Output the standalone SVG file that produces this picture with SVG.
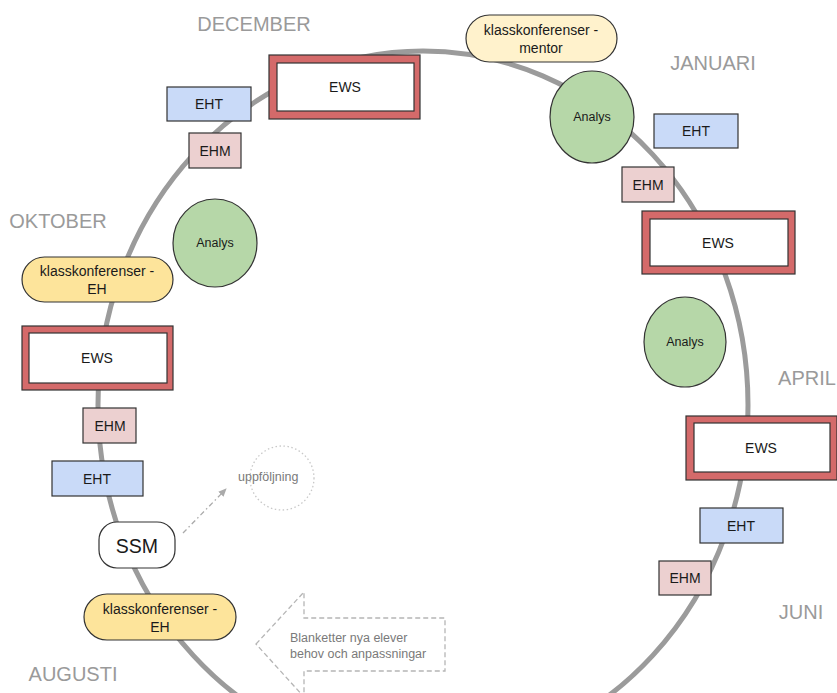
<svg xmlns="http://www.w3.org/2000/svg" width="837" height="693" viewBox="0 0 837 693">
<defs>
<style>
.month{font-family:"Liberation Sans",Arial,sans-serif;font-size:20px;fill:#9a9a9a;text-anchor:middle;dominant-baseline:central}
.t{font-family:"Liberation Sans",Arial,sans-serif;font-size:14px;fill:#1a1a1a;text-anchor:middle;dominant-baseline:central}
.an{font-family:"Liberation Sans",Arial,sans-serif;font-size:12.5px;fill:#1a1a1a;text-anchor:middle;dominant-baseline:central}
.g{font-family:"Liberation Sans",Arial,sans-serif;font-size:12.5px;fill:#7a7a7a;dominant-baseline:central}
.eht{fill:#c9daf8;stroke:#333;stroke-width:1.2}
.ehm{fill:#ecd0d0;stroke:#333;stroke-width:1.2}
.klass{fill:#fde49b;stroke:#333;stroke-width:1.2}
.klassm{fill:#fff2cc;stroke:#333;stroke-width:1.2}
.analys{fill:#b6d7a8;stroke:#333;stroke-width:1.2}
.ewso{fill:#d46a6a;stroke:#333;stroke-width:1.2}
.ewsi{fill:#fff;stroke:#333;stroke-width:1.2}
</style>
<marker id="ah" viewBox="0 0 10 10" refX="8" refY="5" markerWidth="7" markerHeight="7" orient="auto">
<path d="M0,1 L9,5 L0,9 z" fill="#aaa"/>
</marker>
</defs>
<rect width="837" height="693" fill="#fff"/>

<g id="connectors">
<ellipse cx="423" cy="405" rx="325" ry="354" fill="none" stroke="#9b9b9b" stroke-width="5"/>
<line x1="183" y1="533" x2="226" y2="489" stroke="#aaa" stroke-width="1.3" stroke-dasharray="5,3,1.5,3" marker-end="url(#ah)"/>
</g>

<g id="month-labels">
<text class="month" x="254" y="24">DECEMBER</text>
<text class="month" x="713" y="63">JANUARI</text>
<text class="month" x="58" y="221">OKTOBER</text>
<text class="month" x="807" y="378">APRIL</text>
<text class="month" x="801" y="612">JUNI</text>
<text class="month" x="73" y="674">AUGUSTI</text>
</g>

<g id="ews-dec"><rect class="ewso" x="269" y="55" width="151" height="64"/><rect class="ewsi" x="277" y="63" width="137" height="48"/><text class="t" x="345" y="87">EWS</text></g>
<g id="eht-dec"><rect class="eht" x="167" y="87" width="84" height="34"/><text class="t" x="209" y="104">EHT</text></g>
<g id="ehm-dec"><rect class="ehm" x="189" y="133" width="52" height="35"/><text class="t" x="215" y="150.5">EHM</text></g>

<g id="klass-mentor"><rect class="klassm" x="466" y="15" width="151" height="47" rx="23.5"/><text class="t" x="541" y="30">klasskonferenser -</text><text class="t" x="541" y="48">mentor</text></g>
<g id="analys-jan"><ellipse class="analys" cx="592" cy="117" rx="42" ry="46"/><text class="an" x="592" y="117">Analys</text></g>
<g id="eht-jan"><rect class="eht" x="654" y="114" width="84" height="34"/><text class="t" x="696" y="131">EHT</text></g>
<g id="ehm-jan"><rect class="ehm" x="622" y="167" width="52" height="35"/><text class="t" x="648" y="184.5">EHM</text></g>
<g id="ews-jan"><rect class="ewso" x="642" y="211" width="153" height="63"/><rect class="ewsi" x="650" y="219" width="138" height="47"/><text class="t" x="718" y="242.5">EWS</text></g>

<g id="analys-mar"><ellipse class="analys" cx="685" cy="342" rx="41" ry="45"/><text class="an" x="685" y="342">Analys</text></g>
<g id="ews-apr"><rect class="ewso" x="686" y="416" width="151" height="64"/><rect class="ewsi" x="694" y="423" width="136" height="49"/><text class="t" x="761" y="448">EWS</text></g>
<g id="eht-apr"><rect class="eht" x="700" y="508" width="83" height="35"/><text class="t" x="741" y="525.5">EHT</text></g>
<g id="ehm-jun"><rect class="ehm" x="659" y="561" width="52" height="34"/><text class="t" x="685" y="578">EHM</text></g>

<g id="analys-nov"><ellipse class="analys" cx="215" cy="243" rx="42" ry="44"/><text class="an" x="215" y="243">Analys</text></g>
<g id="klass-eh-okt"><rect class="klass" x="22" y="257" width="151" height="45" rx="22.5"/><text class="t" x="97" y="271">klasskonferenser -</text><text class="t" x="97" y="289">EH</text></g>
<g id="ews-okt"><rect class="ewso" x="22" y="326" width="151" height="64"/><rect class="ewsi" x="29" y="333" width="138" height="50"/><text class="t" x="97" y="358">EWS</text></g>
<g id="ehm-sep"><rect class="ehm" x="83" y="408" width="53" height="35"/><text class="t" x="110" y="425.5">EHM</text></g>
<g id="eht-sep"><rect class="eht" x="52" y="461" width="91" height="35"/><text class="t" x="97" y="478.5">EHT</text></g>
<g id="ssm"><rect x="99" y="522" width="76" height="46" rx="18" fill="#fff" stroke="#333" stroke-width="1.2"/><text class="t" style="font-size:19.5px" x="137" y="546">SSM</text></g>
<g id="uppfoljning"><circle cx="282" cy="478" r="32" fill="none" stroke="#c8c8c8" stroke-width="1.3" stroke-dasharray="1.5,2.5"/><text class="g" x="238" y="477">uppföljning</text></g>
<g id="klass-eh-aug"><rect class="klass" x="84" y="594" width="152" height="46" rx="23"/><text class="t" x="160" y="609">klasskonferenser -</text><text class="t" x="160" y="627">EH</text></g>

<g id="blanketter">
<path d="M256,644 L304,592 L304,618 L445,618 L445,671 L304,671 L304,697 Z" fill="none" stroke="#b5b5b5" stroke-width="1.3" stroke-dasharray="5,3"/>
<text class="g" x="290" y="638">Blanketter nya elever</text>
<text class="g" x="290" y="654">behov och anpassningar</text>
</g>
</svg>
